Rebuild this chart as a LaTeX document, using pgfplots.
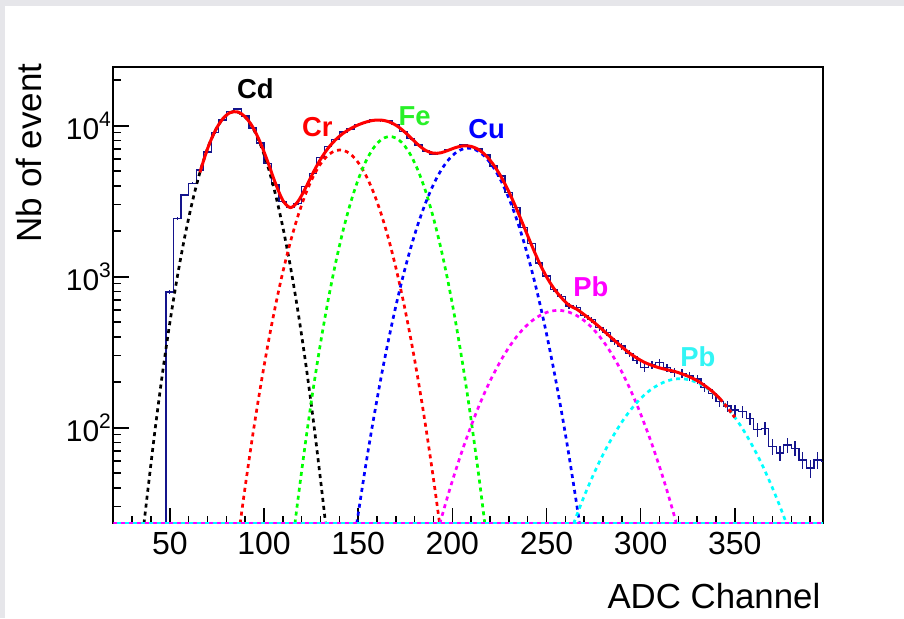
\documentclass[border=0pt]{standalone}
\usepackage{fontspec}
\setmainfont{Liberation Sans}
\usepackage{pgfplots}
\pgfplotsset{compat=1.18}
\usepackage{pgfplotstable}
\definecolor{hblue}{RGB}{20,20,140}
\definecolor{bggrey}{RGB}{230,230,234}
\definecolor{rred}{RGB}{255,0,0}
\definecolor{rgreen}{RGB}{0,255,0}
\definecolor{rblue}{RGB}{0,0,255}
\definecolor{rmagenta}{RGB}{255,0,255}
\definecolor{rcyan}{RGB}{0,255,255}
\definecolor{lgreen}{RGB}{40,240,40}
\definecolor{lcyan}{RGB}{50,245,245}
\tikzset{comp/.style={line width=1.35pt, dash pattern=on 2pt off 2pt}}
\newcommand{\tenp}[1]{10\raisebox{0.42em}{\fontsize{10.5}{12}\selectfont #1}}

\pgfplotstableread{
x y
44 1
48 793
52 2440
56 3480
60 4160
64 5100
68 6700
72 9000
76 10900
80 12400
84 12900
88 11600
92 9650
96 7700
100 5650
104 4100
108 3150
112 2880
116 3050
120 3950
124 4800
128 6150
132 7300
136 8100
140 9100
144 9500
148 10200
152 10500
156 10950
160 10800
164 10750
168 10200
172 9150
176 8200
180 7450
184 6800
188 6500
192 6650
196 6950
200 7150
204 7450
208 7200
212 7000
216 6400
220 5400
224 4650
228 3600
232 2880
236 2120
240 1660
244 1230
248 1010
252 820
256 740
260 640
264 625
268 555
272 520
276 460
280 428
284 375
288 348
292 310
296 280
300 250
304 262
308 270
312 250
316 232
320 228
324 220
328 210
332 185
336 168
340 149
344 139
348 131
352 128
356 115
360 97
364 99
368 75
372 68
376 77
380 73
384 61
388 54
392 61
396 60
400 60
}\histtab

\pgfplotstableread{
x y e
50 793 28.2
54 2440 49.4
58 3480 59
62 4160 64.5
66 5100 71.4
70 6700 81.9
74 9000 94.9
78 10900 104.4
82 12400 111.4
86 12900 113.6
90 11600 107.7
94 9650 98.2
98 7700 87.7
102 5650 75.2
106 4100 64
110 3150 56.1
114 2880 53.7
118 3050 55.2
122 3950 62.8
126 4800 69.3
130 6150 78.4
134 7300 85.4
138 8100 90
142 9100 95.4
146 9500 97.5
150 10200 101
154 10500 102.5
158 10950 104.6
162 10800 103.9
166 10750 103.7
170 10200 101
174 9150 95.7
178 8200 90.6
182 7450 86.3
186 6800 82.5
190 6500 80.6
194 6650 81.5
198 6950 83.4
202 7150 84.6
206 7450 86.3
210 7200 84.9
214 7000 83.7
218 6400 80
222 5400 73.5
226 4650 68.2
230 3600 60
234 2880 53.7
238 2120 46
242 1660 40.7
246 1230 35.1
250 1010 31.8
254 820 28.6
258 740 27.2
262 640 25.3
266 625 25
270 555 23.6
274 520 22.8
278 460 21.4
282 428 20.7
286 375 19.4
290 348 18.7
294 310 17.6
298 280 16.7
302 250 15.8
306 262 16.2
310 270 16.4
314 250 15.8
318 232 15.2
322 228 15.1
326 220 14.8
330 210 14.5
334 185 13.6
338 168 13
342 149 12.2
346 139 11.8
350 131 11.4
354 128 11.3
358 115 10.7
362 97 9.8
366 99 9.9
370 75 8.7
374 68 8.2
378 77 8.8
382 73 8.5
386 61 7.8
390 54 7.3
394 61 7.8
}\errtab

\begin{document}
\begin{tikzpicture}
\fill[bggrey] (-56.65pt,-47.25pt) rectangle (395.35pt,261.75pt);
\fill[white] (-54.15pt,-47.25pt) rectangle (395.35pt,258.75pt);
\begin{axis}[
  at={(0pt,0pt)}, anchor=south west,
  scale only axis, width=354.85pt, height=228.4pt,
  xmin=20, xmax=396.8,
  ymode=log, ymin=23.2, ymax=24600,
  xtick={50,100,150,200,250,300,350},
  minor xtick={30,40,60,70,80,90,110,120,130,140,160,170,180,190,210,220,230,240,260,270,280,290,310,320,330,340,360,370,380,390},
  ytick={100,1000,10000},
  yticklabels={\tenp{2},\tenp{3},\tenp{4}},
  minor ytick={30,40,50,60,70,80,90,200,300,400,500,600,700,800,900,2000,3000,4000,5000,6000,7000,8000,9000,20000},
  tick align=inside, xtick pos=bottom, ytick pos=left,
  major tick length=8pt, minor tick length=4pt,
  tick style={black, line width=0.8pt},
  axis line style={black, line width=0.9pt},
  /pgf/number format/assume math mode=true,
  /pgf/number format/1000 sep={},
  xticklabel style={font=\fontsize{16}{19}\selectfont, yshift=-1pt},
  yticklabel style={font=\fontsize{15}{18}\selectfont, inner sep=1pt},
  clip=true,
]
\addplot[draw=hblue, line width=0.65pt, mark=none, const plot mark left] table[x=x,y=y] {\histtab};
\addplot[draw=none, mark=none,
  error bars/.cd, y dir=both, y explicit, error mark=none,
  error bar style={draw=hblue, line width=0.65pt, solid}] table[x=x,y=y,y error=e] {\errtab};

% Cd
\addplot[draw=black, comp, smooth, mark=none] coordinates {(36.3,23.2) (38,35.5) (42,93.1) (46,224) (50,494) (54,1000) (58,1854) (62,3150) (66,4910) (70,7030) (74,9210) (78,11070) (82,12210) (84.5,12420) (86,12340) (90,11430) (94,9720) (98,7580) (102,5420) (106,3550) (110,2133) (114,1175) (118,594) (122,275) (126,117) (130,45.5) (132.7,23.2)};
% Cr
\addplot[draw=rred, comp, smooth, mark=none] coordinates {(87.35,23.2) (90,40.5) (94,88.7) (98,182) (102,351) (106,634) (110,1072) (114,1694) (118,2518) (122,3500) (126,4570) (130,5575) (134,6380) (138,6840) (142,6880) (146,6480) (150,5710) (154,4720) (158,3660) (162,2655) (166,1807) (170,1151) (174,687) (178,385) (182,202) (186,99.3) (190,45.7) (193.25,23.2)};
% Fe
\addplot[draw=rgreen, comp, smooth, mark=none] coordinates {(116.45,23.2) (118,33.2) (122,79.3) (126,176) (130,362) (134,692) (138,1228) (142,2023) (146,3090) (150,4390) (154,5785) (158,7080) (162,8040) (166,8475) (170,8300) (174,7540) (178,6360) (182,4980) (186,3620) (190,2443) (194,1531) (198,891) (202,481) (206,241) (210,112) (214,48.5) (217.25,23.2)};
% Cu
\addplot[draw=rblue, comp, smooth, mark=none] coordinates {(149.25,23.2) (154,56.1) (158,111) (162,210) (166,375) (170,637) (174,1026) (178,1567) (182,2274) (186,3126) (190,4085) (194,5066) (198,5957) (202,6650) (206,7046) (210,7080) (214,6755) (218,6116) (222,5254) (226,4285) (230,3315) (234,2433) (238,1694) (242,1121) (246,703) (250,419) (254,237) (258,127) (262,64.6) (266,31.2) (267.55,23.2)};
% Pb 1
\addplot[draw=rmagenta, comp, smooth, mark=none] coordinates {(193.37,23.2) (198,36.8) (202,53.2) (206,75.1) (210,103) (214,138) (218,180) (222,228) (226,282) (230,340) (234,399) (238,456) (242,507) (246,549) (250,580) (254,596) (258,597) (262,582) (266,553) (270,512) (274,461) (278,405) (282,346) (286,288) (290,234) (294,184.5) (298,142) (302,106) (306,77.6) (310,55.2) (314,38.2) (319.03,23.2)};
% Pb 2
\addplot[draw=rcyan, comp, smooth, mark=none] coordinates {(264.4,23.2) (266,26.2) (270,35.2) (274,46.1) (278,59.1) (282,74.1) (286,90.8) (290,109) (294,128) (298,147) (302,165) (306,181) (310,194) (314,204) (318,210) (322,211) (326,207) (330,199) (334,187) (338,172) (342,155) (346,136) (350,117) (354,98.9) (358,81.4) (362,65.6) (366,51.7) (370,39.8) (374,30.0) (377.4,23.2)};
% floors
\addplot[draw=rmagenta, comp, mark=none] coordinates {(20,23.2) (396.8,23.2)};
\addplot[draw=rcyan, comp, dash phase=2pt, mark=none] coordinates {(20,23.2) (396.8,23.2)};
% total fit
\addplot[draw=rred, line width=1.5pt, smooth, mark=none] coordinates {(66,4910) (70,7030) (74,9210) (78,11070) (82,12210) (86,12340) (90,11470) (94,9809) (98,7762) (102,5771) (106,4184) (110,3205) (114,2869) (118,3145) (122,3854) (126,4863) (130,5983) (134,7089) (138,8068) (142,8903) (146,9570) (150,10127) (154,10561) (158,10851) (162,10905) (166,10657) (170,10088) (174,9253) (178,8312) (182,7456) (186,6845) (190,6574) (194,6622) (198,6885) (202,7184) (206,7362) (210,7295) (214,6942) (218,6316) (222,5482) (226,4567) (230,3655) (234,2832) (238,2150) (242,1628) (246,1252) (250,999) (254,833) (258,724) (262,647) (266,610) (270,561) (274,513) (278,466) (282,420) (286,379) (290,343) (294,312.5) (298,289) (302,271) (306,258.6) (310,249) (314,242) (318,236) (322,227) (326,217) (330,205) (334,190) (338,174) (342,156)};
\addplot[draw=rred, line width=1.5pt, dash pattern=on 2pt off 1.5pt, smooth, mark=none] coordinates {(342,156) (346,136) (350,117)};
\end{axis}
% axis titles
\node[rotate=90, anchor=base east, inner sep=0pt, font=\fontsize{17.5}{20}\selectfont] at (-35.8pt,230.25pt) {Nb of event};
\node[anchor=base east, inner sep=0pt, font=\fontsize{17.4}{20}\selectfont] at (353.7pt,-42.25pt) {ADC Channel};
% peak labels
\begin{scope}[every node/.style={anchor=base west, inner sep=0pt, font=\bfseries\fontsize{13.7}{16}\selectfont}]
\node[text=black] at (61.7pt,212.6pt) {Cd};
\node[text=rred] at (94.2pt,193.4pt) {Cr};
\node[text=lgreen] at (142.5pt,199.25pt) {Fe};
\node[text=rblue] at (177.35pt,192.6pt) {Cu};
\node[text=rmagenta] at (229.85pt,113.4pt) {Pb};
\node[text=lcyan] at (283.35pt,78.4pt) {Pb};
\end{scope}
\end{tikzpicture}
\end{document}
